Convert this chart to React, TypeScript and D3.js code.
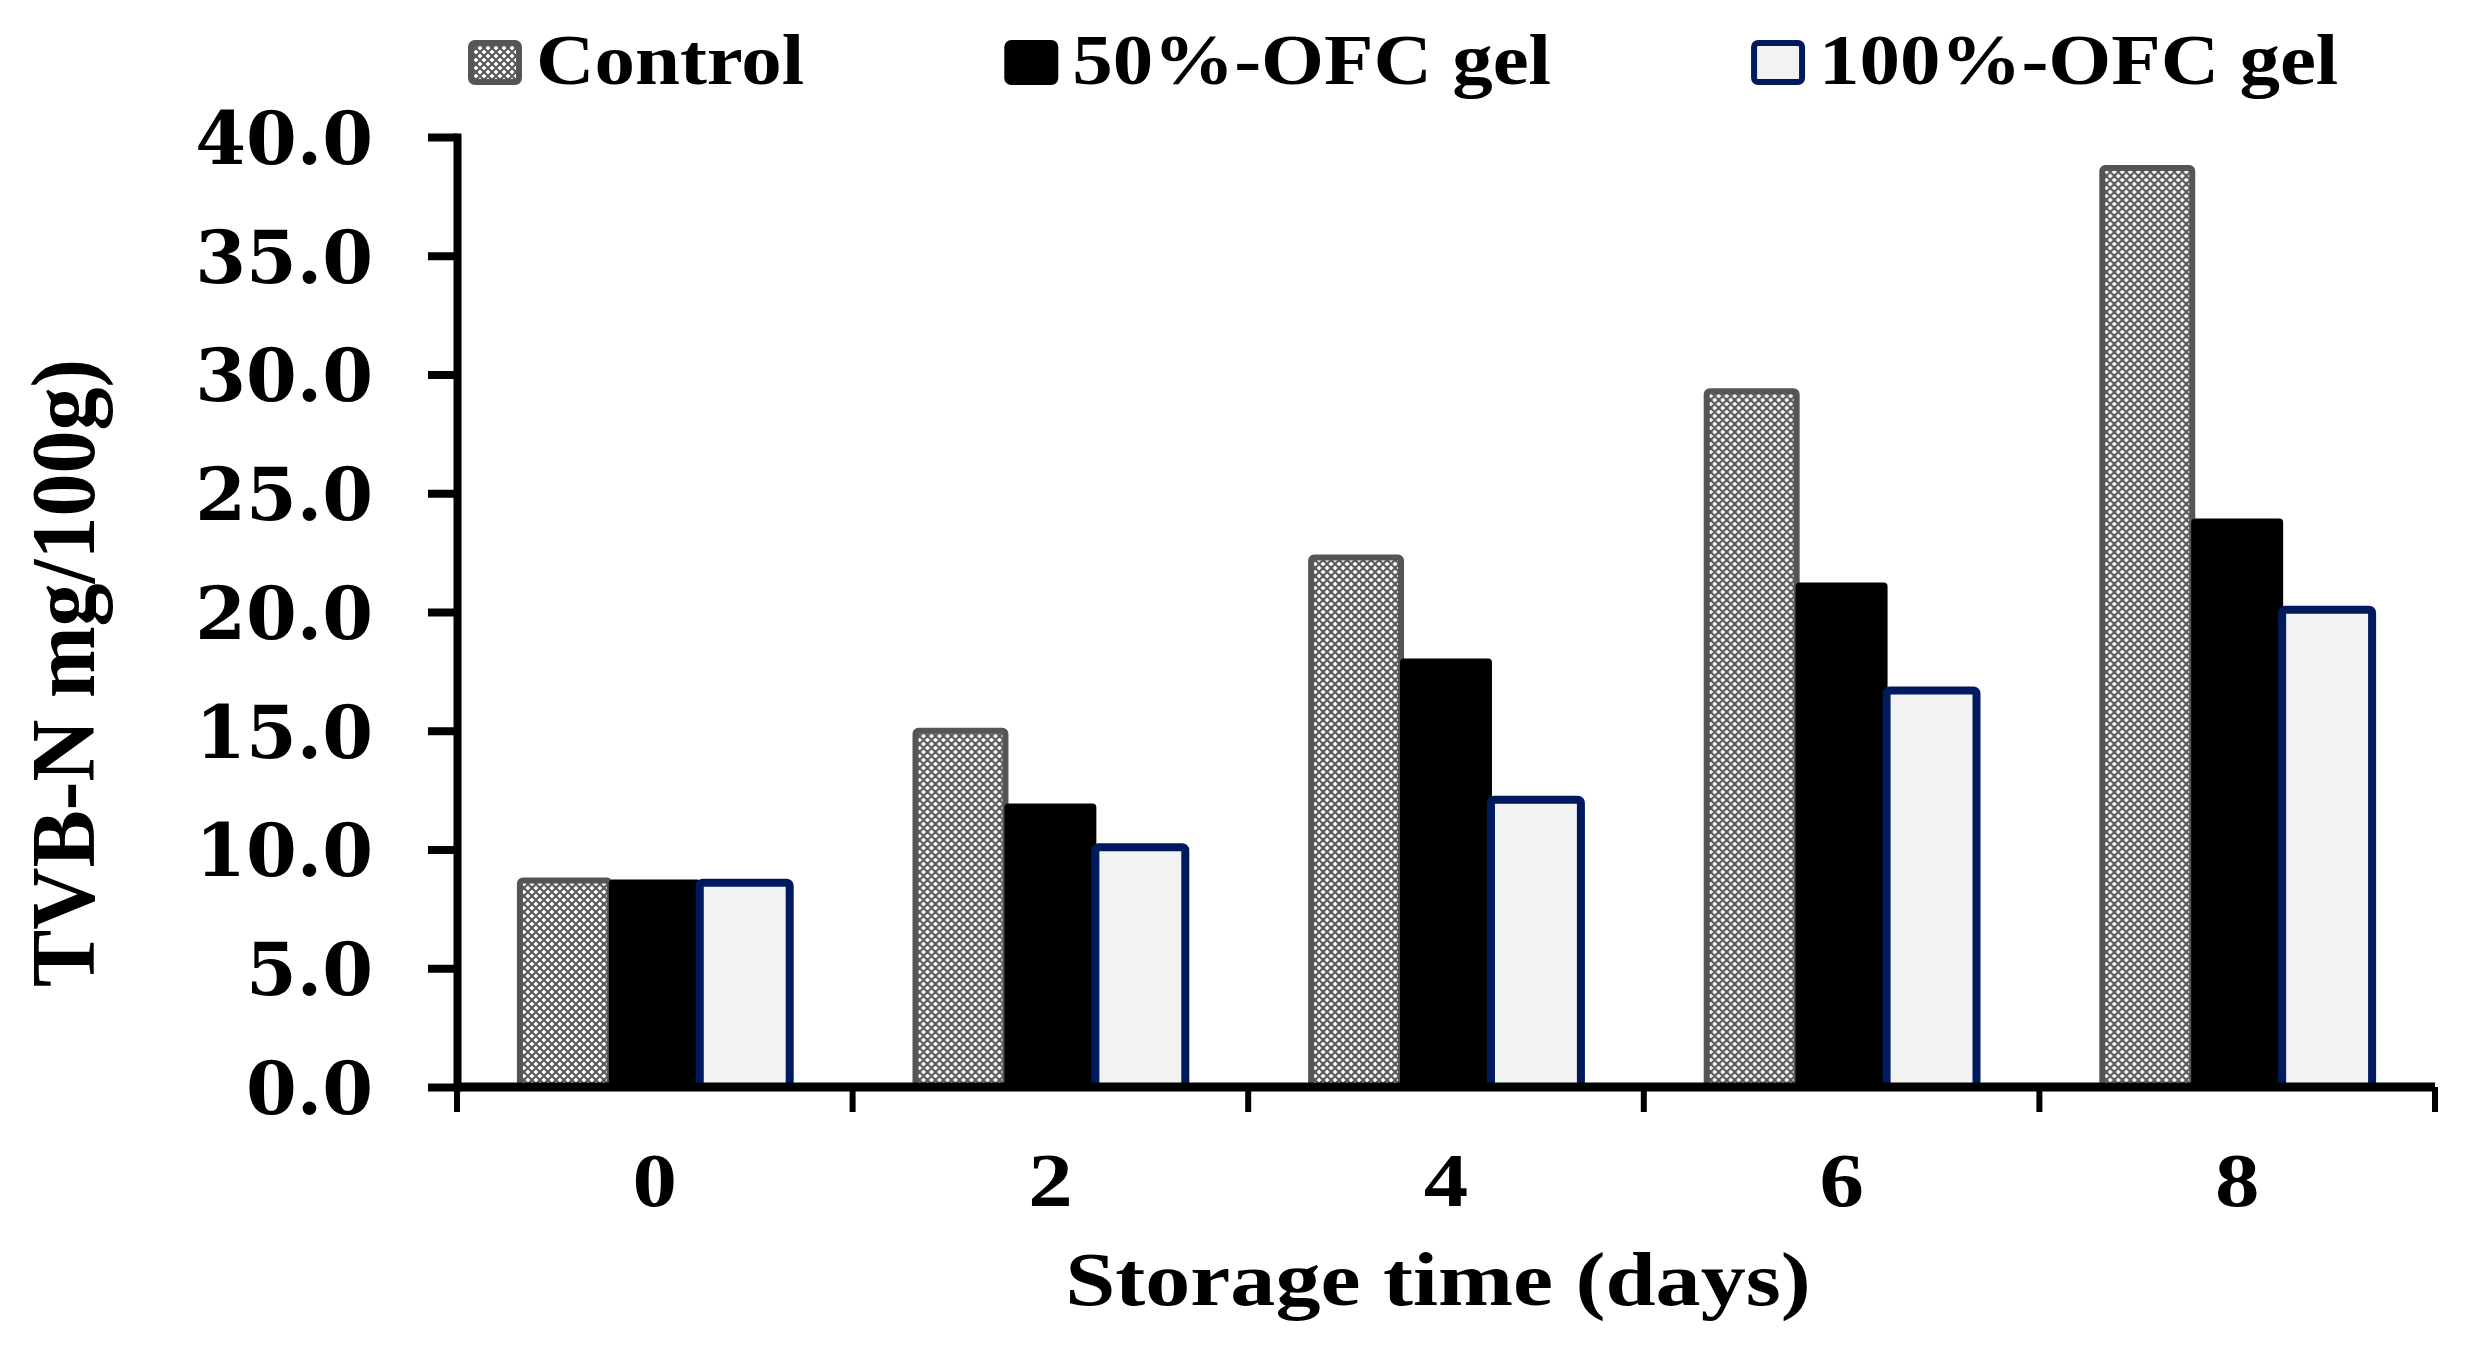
import React, { useEffect, useRef } from "react";
import * as d3 from "d3";

const days = ["0", "2", "4", "6", "8"];
const seriesNames = ["Control", "50%-OFC gel", "100%-OFC gel"];
const control = [8.7, 15.0, 22.3, 29.3, 38.7];
const ofc50 = [8.7, 11.9, 18.0, 21.2, 23.9];
const ofc100 = [8.6, 10.1, 12.1, 16.7, 20.1];
const yTicks = [0, 5, 10, 15, 20, 25, 30, 35, 40];

function App() {
  const ref = useRef<SVGSVGElement | null>(null);
  const width = 2466;
  const height = 1349;
  const marginTop = 137;
  const marginRight = 31;
  const marginBottom = 262;
  const marginLeft = 457;
  const serif = "'Liberation Serif', 'Times New Roman', serif";
  const stretch = 1.17;

  useEffect(() => {
    document.body.style.margin = "0";
    const series = [control, ofc50, ofc100];
    const fills = ["url(#hatch)", "#000000", "#f2f2f2"];
    const strokes = ["#555555", "#000000", "#001a5e"];
    const strokeW = [6, 2, 8];

    const x = d3
      .scaleBand<string>()
      .domain(days)
      .range([marginLeft, width - marginRight])
      .paddingInner(0.318)
      .paddingOuter(0.159);
    const xs = d3.scaleBand<string>().domain(seriesNames).range([0, x.bandwidth()]);
    const y = d3
      .scaleLinear()
      .domain([0, 40])
      .range([height - marginBottom, marginTop]);

    const svg = d3.select(ref.current);
    svg.selectAll("*").remove();
    svg
      .attr("width", width)
      .attr("height", height)
      .attr("viewBox", [0, 0, width, height])
      .style("display", "block")
      .style("background", "#fff");

    // crosshatch used by the Control bars
    const pat = svg
      .append("defs")
      .append("pattern")
      .attr("id", "hatch")
      .attr("patternUnits", "userSpaceOnUse")
      .attr("width", 8)
      .attr("height", 8);
    pat.append("rect").attr("width", 8).attr("height", 8).attr("fill", "#fff");
    pat
      .append("path")
      .attr("d", "M0,4L4,0L8,4L4,8Z")
      .attr("fill", "none")
      .attr("stroke", "#5a5a5a")
      .attr("stroke-width", 2.2);

    // bars
    const rows = days.map((d, i) => ({ day: d, values: series.map((s) => s[i]) }));
    svg
      .append("g")
      .selectAll("g")
      .data(rows)
      .join("g")
      .attr("transform", (d) => `translate(${x(d.day)},0)`)
      .selectAll("rect")
      .data((d) => d.values.map((v, j) => ({ v, j })))
      .join("rect")
      .attr("x", (d) => xs(seriesNames[d.j]) as number)
      .attr("y", (d) => y(d.v))
      .attr("width", xs.bandwidth())
      .attr("height", (d) => y(0) - y(d.v))
      .attr("rx", 3)
      .attr("fill", (d) => fills[d.j])
      .attr("stroke", (d) => strokes[d.j])
      .attr("stroke-width", (d) => strokeW[d.j]);

    // y axis
    const yAxis = svg
      .append("g")
      .attr("transform", `translate(${marginLeft},0)`)
      .call(
        d3
          .axisLeft(y)
          .tickValues(yTicks)
          .tickFormat(d3.format(".1f"))
          .tickSize(29)
          .tickSizeOuter(0)
          .tickPadding(55)
      );
    yAxis.select(".domain").attr("stroke", "#000").attr("stroke-width", 8).attr("stroke-linecap", "square");
    yAxis.selectAll(".tick line").attr("stroke", "#000").attr("stroke-width", 8);
    yAxis
      .selectAll(".tick text")
      .attr("font-family", "'DejaVu Serif', serif")
      .attr("font-weight", "bold")
      .attr("font-size", 73)
      .attr("dy", "0.36em")
      .attr("fill", "#000");

    // x axis line and category boundary ticks
    const xAxis = svg.append("g").attr("transform", `translate(0,${y(0)})`);
    xAxis
      .append("line")
      .attr("x1", marginLeft)
      .attr("x2", width - marginRight)
      .attr("stroke", "#000")
      .attr("stroke-width", 9);
    xAxis
      .selectAll(".bound")
      .data(d3.range(days.length + 1))
      .join("line")
      .attr("x1", (i) => x.range()[0] + i * x.step())
      .attr("x2", (i) => x.range()[0] + i * x.step())
      .attr("y1", 0)
      .attr("y2", 25)
      .attr("stroke", "#000")
      .attr("stroke-width", 6);

    const xLab = svg
      .append("g")
      .attr("transform", `translate(0,${y(0)})`)
      .call(d3.axisBottom(x).tickSize(0));
    xLab.select(".domain").remove();
    xLab
      .selectAll(".tick text")
      .attr("y", 119)
      .attr("dy", null)
      .attr("font-family", serif)
      .attr("font-weight", "bold")
      .attr("font-size", 76)
      .attr("fill", "#000")
      .attr("transform", `scale(${stretch},1)`);

    // axis titles
    svg
      .append("text")
      .attr("transform", `translate(${(marginLeft + width - marginRight) / 2 - 8},1305) scale(${stretch},1)`)
      .attr("text-anchor", "middle")
      .attr("font-family", serif)
      .attr("font-weight", "bold")
      .attr("font-size", 77)
      .text("Storage time (days)");

    svg
      .append("text")
      .attr("transform", `translate(94,673) scale(1.07,1) rotate(-90)`)
      .attr("text-anchor", "middle")
      .attr("font-family", serif)
      .attr("font-weight", "bold")
      .attr("font-size", 86)
      .text("TVB-N mg/100g)");

    // legend
    const legend = svg.append("g");
    const legendStretch = 1.14;
    let lx = 468;
    seriesNames.forEach((name, i) => {
      legend
        .append("rect")
        .attr("x", lx + 3)
        .attr("y", 43)
        .attr("width", 48)
        .attr("height", 39)
        .attr("rx", 4)
        .attr("fill", fills[i])
        .attr("stroke", strokes[i])
        .attr("stroke-width", 6);
      const t = legend
        .append("text")
        .attr("transform", `translate(${lx + 68},84) scale(${legendStretch},1)`)
        .attr("font-family", serif)
        .attr("font-weight", "bold")
        .attr("font-size", 71)
        .text(name);
      const w = (t.node() as SVGTextElement).getComputedTextLength() * legendStretch;
      lx = lx + 68 + w + 200;
    });
  }, []);

  return <svg ref={ref}></svg>;
}

export default App;
